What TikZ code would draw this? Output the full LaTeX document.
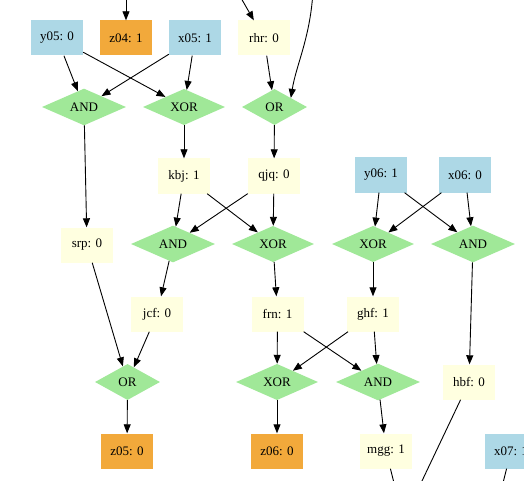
\documentclass[tikz,border=0pt]{standalone}
\usepackage{fontspec}
\setmainfont{Liberation Serif}
\usetikzlibrary{shapes.geometric,arrows.meta}
\definecolor{inblue}{HTML}{ADD8E6}
\definecolor{outorange}{HTML}{F2A93B}
\definecolor{wireyellow}{HTML}{FFFFE0}
\definecolor{gategreen}{HTML}{A0E898}
\begin{document}
\begin{tikzpicture}[x=1pt,y=-1pt,
  every node/.style={font=\fontsize{13}{15}\selectfont, inner sep=0pt},
  box/.style={rectangle, minimum width=52pt, minimum height=35pt},
  inbox/.style={box, fill=inblue},
  outbox/.style={box, fill=outorange},
  wirebox/.style={box, fill=wireyellow},
  gate/.style={diamond, fill=gategreen, minimum height=36pt, minimum width=#1},
  andg/.style={gate=84pt},
  xorg/.style={gate=82pt},
  org/.style={gate=65pt},
  arr/.style={draw=black, line width=0.9pt, -{Triangle[length=9pt,width=7pt]}},
  ln/.style={draw=black, line width=0.9pt}
]
\clip (0,0) rectangle (524,481);
\fill[white] (0,0) rectangle (524,481);
% row 1
\node[inbox] (y05) at (57,38) {y05: 0};
\node[outbox] (z04) at (126,38) {z04: 1};
\node[inbox] (x05) at (195,38) {x05: 1};
\node[wirebox] (rhr) at (264,38) {rhr: 0};
% row 2 gates
\node[andg] (and1) at (84,107) {AND};
\node[xorg] (xor1) at (184,107) {XOR};
\node[org] (or1) at (274.5,107) {OR};
% row 3
\node[wirebox] (kbj) at (184,176) {kbj: 1};
\node[wirebox] (qjq) at (274,176) {qjq: 0};
\node[inbox] (y06) at (381,175) {y06: 1};
\node[inbox] (x06) at (465,175) {x06: 0};
% row 4
\node[wirebox] (srp) at (87,245) {srp: 0};
\node[andg] (and2) at (173,244) {AND};
\node[xorg] (xor2) at (273,244) {XOR};
\node[xorg] (xor3) at (373,244) {XOR};
\node[andg] (and3) at (473,244) {AND};
% row 5
\node[wirebox] (jcf) at (157,314) {jcf: 0};
\node[wirebox] (frn) at (277.5,314) {frn: 1};
\node[wirebox] (ghf) at (373,314) {ghf: 1};
% row 6
\node[org] (or2) at (127.5,382) {OR};
\node[xorg] (xor4) at (277,382) {XOR};
\node[andg] (and4) at (378,382) {AND};
\node[wirebox] (hbf) at (469,382) {hbf: 0};
% row 7
\node[outbox] (z05) at (127,451) {z05: 0};
\node[outbox] (z06) at (277,451) {z06: 0};
\node[wirebox] (mgg) at (386,451) {mgg: 1};
\node[inbox] (x07) at (511,451) {x07: 1};
% free ends
\coordinate (tz04) at (126,-2);
\coordinate (trhr) at (241,-2);
\coordinate (tor) at (312.5,-2);
\coordinate (bmgg) at (394,483);
\coordinate (bhbf) at (421,483);
\coordinate (bx07) at (503,483);
% edges
\draw[arr] (tz04) -- (z04);
\draw[arr] (trhr) -- (rhr);
\draw[arr] (tor) .. controls (309,40) and (296,66) .. (or1.north east);
\draw[arr] (y05) -- (and1);
\draw[arr] (y05) -- (xor1);
\draw[arr] (x05) -- (and1);
\draw[arr] (x05) -- (xor1);
\draw[arr] (rhr) -- (or1);
\draw[arr] (and1) -- (srp);
\draw[arr] (xor1) -- (kbj);
\draw[arr] (or1) -- (qjq);
\draw[arr] (kbj) -- (and2);
\draw[arr] (kbj) -- (xor2);
\draw[arr] (qjq) -- (and2);
\draw[arr] (qjq) -- (xor2);
\draw[arr] (y06) -- (xor3);
\draw[arr] (y06) -- (and3);
\draw[arr] (x06) -- (xor3);
\draw[arr] (x06) -- (and3);
\draw[arr] (and2) -- (jcf);
\draw[arr] (xor2) -- (frn);
\draw[arr] (xor3) -- (ghf);
\draw[arr] (and3) -- (hbf);
\draw[arr] (srp) -- (or2);
\draw[arr] (jcf) -- (or2);
\draw[arr] (frn) -- (xor4);
\draw[arr] (frn) -- (and4);
\draw[arr] (ghf) -- (xor4);
\draw[arr] (ghf) -- (and4);
\draw[arr] (or2) -- (z05);
\draw[arr] (xor4) -- (z06);
\draw[arr] (and4) -- (mgg);
\draw[ln] (mgg) -- (bmgg);
\draw[ln] (hbf) -- (bhbf);
\draw[ln] (x07) -- (bx07);
\end{tikzpicture}
\end{document}
